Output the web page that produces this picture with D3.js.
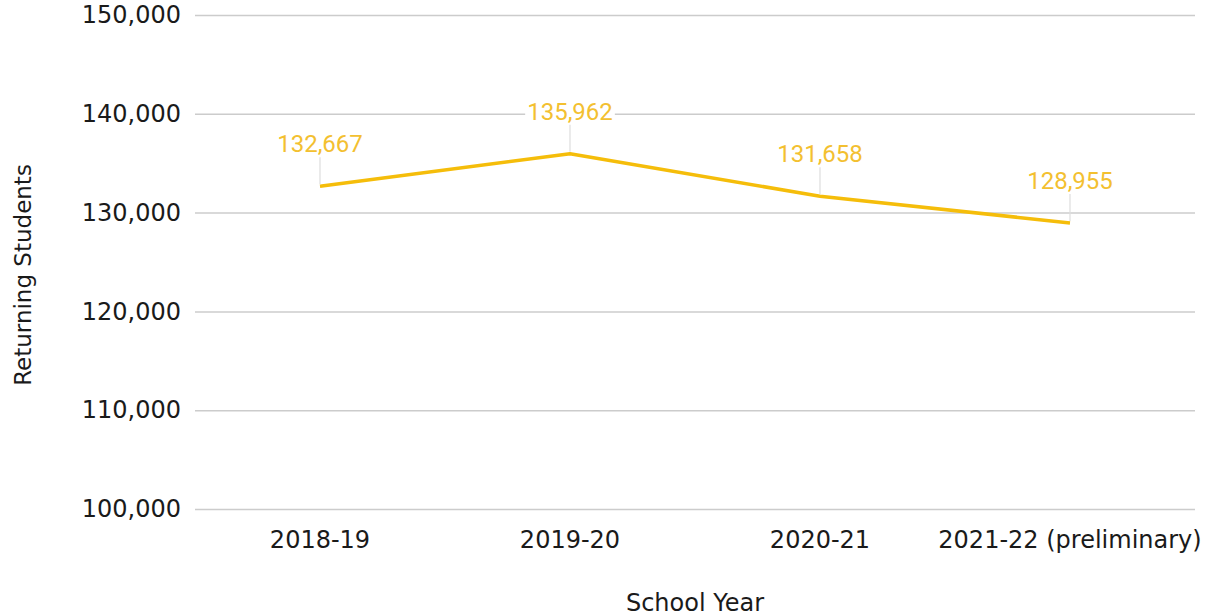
<!DOCTYPE html>
<html>
<head>
<meta charset="utf-8">
<script src="https://cdn.jsdelivr.net/npm/d3@7"></script>
<style>
  html, body { margin: 0; padding: 0; background: #fff; }
  svg { display: block; }
</style>
</head>
<body>
<svg id="chart" width="1220" height="616"></svg>
<script>
// Returning students by school year
const categories = ["2018-19", "2019-20", "2020-21", "2021-22 (preliminary)"];
const returningStudents = [132667, 135962, 131658, 128955];
const yTicks = [100000, 110000, 120000, 130000, 140000, 150000];

const W = 1220, H = 616;
const margin = { top: 15, right: 25, bottom: 107, left: 195 };
const innerW = W - margin.left - margin.right;
const innerH = H - margin.top - margin.bottom;

const svg = d3.select("#chart");
const g = svg.append("g").attr("transform", `translate(${margin.left},${margin.top})`);

const x = d3.scaleBand().domain(categories).range([0, innerW]);
const y = d3.scaleLinear().domain([100000, 150000]).range([innerH, 0]);
const fmt = d3.format(",");

const axisFont = "'DejaVu Sans', Verdana, sans-serif";

// gridlines + y tick labels
const yAxis = g.append("g")
  .call(d3.axisLeft(y).tickValues(yTicks).tickFormat(fmt).tickSize(-innerW).tickPadding(14));
yAxis.select(".domain").remove();
yAxis.selectAll(".tick line").attr("stroke", "#cccccc").attr("stroke-width", 1.5);
yAxis.selectAll(".tick text")
  .attr("fill", "#1a1a1a").style("font-family", axisFont).style("font-size", "24px");

// x tick labels
const xAxis = g.append("g").attr("transform", `translate(0,${innerH})`)
  .call(d3.axisBottom(x).tickSize(0).tickPadding(22));
xAxis.select(".domain").remove();
xAxis.selectAll(".tick text")
  .attr("fill", "#1a1a1a").style("font-family", axisFont).style("font-size", "24px");

// axis titles
svg.append("text")
  .attr("x", margin.left + innerW / 2).attr("y", 611)
  .attr("text-anchor", "middle")
  .attr("fill", "#1a1a1a").style("font-family", axisFont).style("font-size", "24px")
  .text("School Year");

svg.append("text")
  .attr("transform", `translate(31,275) rotate(-90)`)
  .attr("text-anchor", "middle")
  .attr("fill", "#1a1a1a").style("font-family", axisFont).style("font-size", "23px")
  .text("Returning Students");

// series line
const cx = d => x(d) + x.bandwidth() / 2;
const pts = categories.map((c, i) => ({ c, v: returningStudents[i] }));

g.append("path")
  .datum(pts)
  .attr("fill", "none")
  .attr("stroke", "#f5bd0a")
  .attr("stroke-width", 3.5)
  .attr("stroke-linejoin", "round")
  .attr("d", d3.line().x(d => cx(d.c)).y(d => y(d.v)));

// value labels with leader lines
const lbl = g.append("g").selectAll("g").data(pts).join("g")
  .attr("transform", d => `translate(${cx(d.c)},${y(d.v)})`);

lbl.append("line")
  .attr("x1", 0).attr("x2", 0).attr("y1", -29).attr("y2", -2)
  .attr("stroke", "#dddddd").attr("stroke-width", 1.2);

const txt = lbl.append("text")
  .attr("x", 0).attr("y", -34)
  .attr("text-anchor", "middle")
  .attr("fill", "#f3c030")
  .style("font-family", "Roboto, sans-serif")
  .style("font-size", "24px")
  .text(d => fmt(d.v));

txt.each(function() {
  const b = this.getBBox();
  d3.select(this.parentNode).insert("rect", "text")
    .attr("x", b.x - 2).attr("y", b.y + 3).attr("width", b.width + 4).attr("height", b.height - 5)
    .attr("fill", "#fff");
});
</script>
</body>
</html>
